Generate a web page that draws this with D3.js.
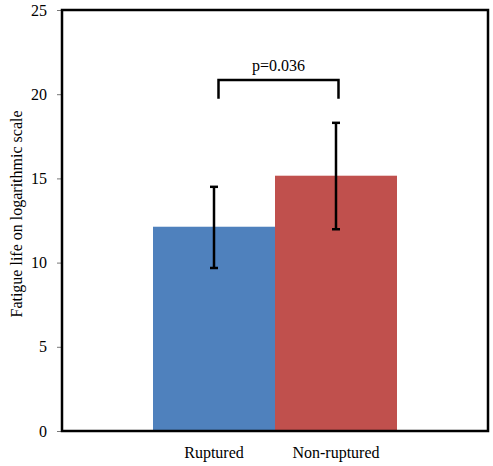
<!DOCTYPE html>
<html><head><meta charset="utf-8">
<script src="https://cdn.jsdelivr.net/npm/d3@7"></script>
<style>body{margin:0;background:#fff}</style>
</head><body>
<script>
const categories = ["Ruptured", "Non-ruptured"];
const values = [12.13, 15.16];
const errLow = [9.68, 11.98];
const errHigh = [14.5, 18.3];
const colors = ["#4f81bd", "#c0504d"];
const yTicks = [0, 5, 10, 15, 20, 25];
const bracketTop = 20.84, bracketBottom = 19.73;
const pLabel = "p=0.036";
const yTitle = "Fatigue life on logarithmic scale";

const W = 493, H = 466;
const L = 62, R = 488, T = 10, B = 431;
const svg = d3.select("body").append("svg").attr("width", W).attr("height", H);
const font = "'Liberation Serif','Times New Roman',serif";

const y = d3.scaleLinear().domain([0, 25]).range([B, T]);
const x = d3.scaleBand().domain(categories).range([L, R]).paddingInner(0).paddingOuter(0.746);

// bars
svg.selectAll("rect.bar").data(categories).enter().append("rect")
  .attr("x", d => x(d)).attr("width", x.bandwidth())
  .attr("y", (d, i) => y(values[i])).attr("height", (d, i) => B - y(values[i]))
  .attr("fill", (d, i) => colors[i]);

// error bars
const eg = svg.append("g").attr("stroke", "#000").attr("stroke-width", 2.5);
categories.forEach((c, i) => {
  const cx = x(c) + x.bandwidth() / 2;
  eg.append("line").attr("x1", cx).attr("x2", cx).attr("y1", y(errLow[i])).attr("y2", y(errHigh[i]));
  eg.append("line").attr("x1", cx - 4).attr("x2", cx + 4).attr("y1", y(errLow[i])).attr("y2", y(errLow[i]));
  eg.append("line").attr("x1", cx - 4).attr("x2", cx + 4).attr("y1", y(errHigh[i])).attr("y2", y(errHigh[i]));
});

// bracket
const bx1 = x(categories[0]) + x.bandwidth() / 2 + 4.5;
const bx2 = x(categories[1]) + x.bandwidth() / 2 + 2.5;
svg.append("path")
  .attr("d", `M${bx1},${y(bracketBottom)}V${y(bracketTop)}H${bx2}V${y(bracketBottom)}`)
  .attr("fill", "none").attr("stroke", "#000").attr("stroke-width", 2.5);
svg.append("text").attr("x", (bx1 + bx2) / 2).attr("y", y(bracketTop) - 9)
  .attr("text-anchor", "middle").attr("font-family", font).attr("font-size", 16).text(pLabel);

// y axis
const yAxis = d3.axisLeft(y).tickValues(yTicks).tickSize(5).tickPadding(10);
const ga = svg.append("g").attr("transform", `translate(${L},0)`).call(yAxis);
ga.select(".domain").remove();
ga.selectAll(".tick line").attr("stroke", "#777");
ga.selectAll(".tick text").attr("font-family", font).attr("font-size", 16).attr("fill", "#000");

// frame
svg.append("rect").attr("x", L).attr("y", T).attr("width", R - L).attr("height", B - T)
  .attr("fill", "none").attr("stroke", "#000").attr("stroke-width", 2.5);

// x labels
svg.selectAll("text.xl").data(categories).enter().append("text")
  .attr("x", d => x(d) + x.bandwidth() / 2).attr("y", 458)
  .attr("text-anchor", "middle").attr("font-family", font).attr("font-size", 16).text(d => d);

// y title
svg.append("text").attr("transform", `translate(22,214) rotate(-90)`)
  .attr("text-anchor", "middle").attr("font-family", font).attr("font-size", 16).text(yTitle);
</script>
</body></html>
